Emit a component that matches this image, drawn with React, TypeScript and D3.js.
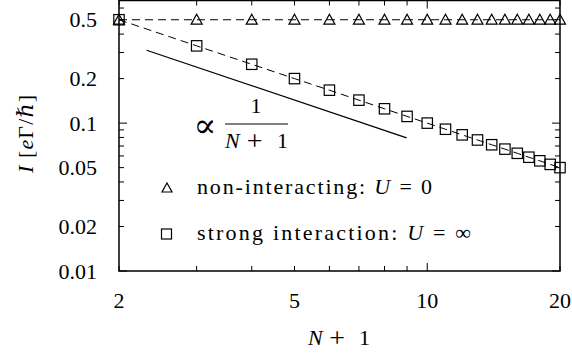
import React from "react";
import * as d3 from "d3";

// N+1 values
const nPlus1 = [2, 3, 4, 5, 6, 7, 8, 9, 10, 11, 12, 13, 14, 15, 16, 17, 18, 19, 20];
// non-interacting, U = 0
const nonInteracting = [0.5, 0.5, 0.5, 0.5, 0.5, 0.5, 0.5, 0.5, 0.5, 0.5, 0.5, 0.5, 0.5, 0.5, 0.5, 0.5, 0.5, 0.5, 0.5];
// strong interaction, U = inf
const strongInteraction = [
  0.5, 0.333, 0.25, 0.2, 0.167, 0.143, 0.125, 0.111, 0.1, 0.0909,
  0.0833, 0.0769, 0.0714, 0.0667, 0.0625, 0.0588, 0.0556, 0.0526, 0.05,
];
// guide line ~ 1/(N+1)
const guideX = [2.31, 8.98];
const guideY = [0.311, 0.0796];

const xTickLabels = [2, 5, 10, 20];
const yTickLabels = [0.01, 0.02, 0.05, 0.1, 0.2, 0.5];
const xMinorTicks = [2, 3, 4, 5, 6, 7, 8, 9, 20];
const xMajorTicks = [10];
const yMinorTicks = [0.02, 0.03, 0.04, 0.05, 0.06, 0.07, 0.08, 0.09, 0.2, 0.3, 0.4, 0.5, 0.6];
const yMajorTicks = [0.01, 0.1];

const W = 572;
const H = 354;
const left = 119;
const right = 560;
const top = 0.5;
const bottom = 271;

const serif = "Liberation Serif, DejaVu Serif, serif";

// "N + 1" drawn as math with wide spacing around the plus
const NPlusOne = ({ x0, x1, y }: { x0: number; x1: number; y: number }) => {
  const w = x1 - x0;
  return (
    <g style={{ fontFamily: serif, fontSize: 22 }}>
      <text x={x0} y={y} fontStyle="italic">N</text>
      <text x={x0 + w * 0.47} y={y + 1.5} textAnchor="middle" fontSize={28} style={{ fontSize: 28 }}>+</text>
      <text x={x1} y={y} textAnchor="end">1</text>
    </g>
  );
};

export default function App() {
  const x = d3.scaleLog().domain([2, 20]).range([left, right]);
  const y = d3.scaleLog().domain([0.01, 0.68]).range([bottom, 0]);

  const line = d3
    .line<[number, number]>()
    .x((d) => x(d[0]))
    .y((d) => y(d[1]));

  const triPath = (cx: number, cy: number, s = 5.5) =>
    `M${cx},${cy - s} L${cx + s},${cy + s * 0.8} L${cx - s},${cy + s * 0.8} Z`;

  const txt = { fontFamily: serif, fontSize: 22 } as React.CSSProperties;

  return (
    <svg
      width={W}
      height={H}
      style={{ position: "absolute", left: 0, top: 0, background: "#fff", fontFamily: serif }}
    >
      {/* series lines */}
      <path
        d={line(nPlus1.map((n, i) => [n, nonInteracting[i]]) as [number, number][]) || ""}
        fill="none"
        stroke="#000"
        strokeWidth={1}
        strokeDasharray="8,5"
      />
      <path
        d={line(nPlus1.map((n, i) => [n, strongInteraction[i]]) as [number, number][]) || ""}
        fill="none"
        stroke="#000"
        strokeWidth={1}
        strokeDasharray="8,5"
      />
      <path
        d={line(guideX.map((n, i) => [n, guideY[i]]) as [number, number][]) || ""}
        fill="none"
        stroke="#000"
        strokeWidth={1.3}
      />

      {/* markers */}
      {nPlus1.map((n, i) => (
        <path key={"t" + i} d={triPath(x(n), y(nonInteracting[i]))} fill="none" stroke="#000" strokeWidth={1.2} />
      ))}
      {nPlus1.map((n, i) => (
        <rect
          key={"s" + i}
          x={x(n) - 5.2}
          y={y(strongInteraction[i]) - 5.2}
          width={10.4}
          height={10.4}
          fill="none"
          stroke="#000"
          strokeWidth={1.2}
        />
      ))}

      {/* ticks */}
      <g stroke="#000" strokeWidth={1}>
        {xMinorTicks.map((t) => (
          <g key={"xm" + t}>
            <line x1={x(t)} x2={x(t)} y1={bottom} y2={bottom - 5} />
            <line x1={x(t)} x2={x(t)} y1={top} y2={top + 5} />
          </g>
        ))}
        {xMajorTicks.map((t) => (
          <g key={"xM" + t}>
            <line x1={x(t)} x2={x(t)} y1={bottom} y2={bottom - 8} />
            <line x1={x(t)} x2={x(t)} y1={top} y2={top + 8} />
          </g>
        ))}
        {yMinorTicks.map((t) => (
          <g key={"ym" + t}>
            <line x1={left} x2={left + 5} y1={y(t)} y2={y(t)} />
            <line x1={right} x2={right - 5} y1={y(t)} y2={y(t)} />
          </g>
        ))}
        {yMajorTicks.map((t) => (
          <g key={"yM" + t}>
            <line x1={left} x2={left + 8} y1={y(t)} y2={y(t)} />
            <line x1={right} x2={right - 8} y1={y(t)} y2={y(t)} />
          </g>
        ))}
      </g>

      {/* frame */}
      <rect x={left} y={top} width={right - left} height={bottom - top} fill="none" stroke="#000" strokeWidth={1.5} />

      {/* tick labels */}
      {yTickLabels.map((t) => (
        <text key={"yl" + t} x={97} y={y(t)} dy="0.35em" textAnchor="end" style={txt}>
          {String(t)}
        </text>
      ))}
      {xTickLabels.map((t) => (
        <text key={"xl" + t} x={x(t)} y={308} textAnchor="middle" style={txt}>
          {String(t)}
        </text>
      ))}

      {/* axis titles */}
      <NPlusOne x0={308} x1={370} y={345} />
      <text
        transform="translate(33,134) rotate(-90)"
        textAnchor="middle"
        style={txt}
        textLength={78}
        lengthAdjust="spacing"
      >
        <tspan fontStyle="italic">I</tspan>
        <tspan> [</tspan>
        <tspan fontStyle="italic">e</tspan>
        <tspan>Γ/</tspan>
        <tspan fontStyle="italic">ℏ</tspan>
        <tspan>]</tspan>
      </text>

      {/* 1/(N+1) annotation */}
      <text x={205} y={137} textAnchor="middle" style={{ fontFamily: serif, fontSize: 34 }}>∝</text>
      <text x={256} y={113} textAnchor="middle" style={txt}>1</text>
      <line x1={225} x2={288} y1={124} y2={124} stroke="#000" strokeWidth={1} />
      <NPlusOne x0={225} x1={288} y={148} />

      {/* legend */}
      <path d={triPath(167, 188, 5)} fill="none" stroke="#000" strokeWidth={1.2} />
      <text x={197} y={194} style={txt} textLength={235} lengthAdjust="spacing">
        non-interacting: <tspan fontStyle="italic">U</tspan> = 0
      </text>
      <rect x={161.5} y={229} width={10} height={10} fill="none" stroke="#000" strokeWidth={1.2} />
      <text x={197} y={240} style={txt} textLength={274} lengthAdjust="spacing">
        strong interaction: <tspan fontStyle="italic">U</tspan> = ∞
      </text>
    </svg>
  );
}
